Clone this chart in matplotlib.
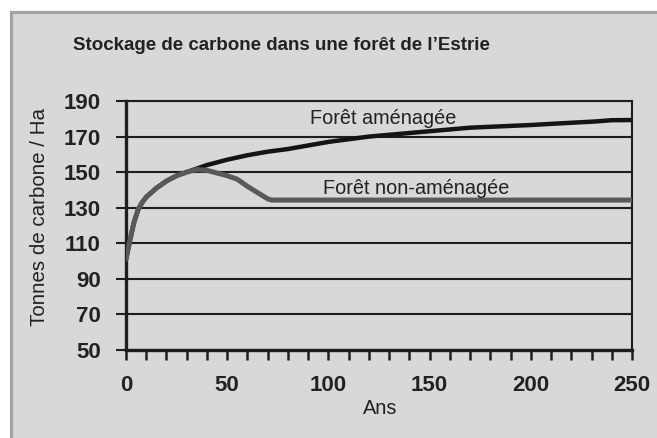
import matplotlib
matplotlib.use("Agg")
import matplotlib.pyplot as plt
from matplotlib.patches import Rectangle
from matplotlib.ticker import MultipleLocator

# ---- data ----
years_am = [0, 2, 4, 6, 8, 10, 15, 20, 25, 30, 35, 40, 50, 60, 70, 80, 90, 100,
            110, 120, 130, 140, 150, 160, 170, 180, 190, 200, 214, 232, 240, 250]
vals_am = [101, 112, 122, 129, 133, 136, 141, 145, 148, 150, 152, 154, 157, 159.5,
           161.5, 163, 165, 167, 168.5, 170, 171, 172, 173, 174, 175, 175.5, 176,
           176.5, 177.4, 178.5, 179.2, 179.3]

years_non = [0, 2, 4, 6, 8, 10, 15, 20, 25, 30, 35, 40, 45, 50, 55, 60, 65, 70, 72, 250]
vals_non = [101, 112, 122, 129, 133, 136, 141, 145, 148, 150, 151.5, 151, 149.5, 148,
            146, 142, 138.5, 135, 134.3, 134.3]

y_ticks = [50, 70, 90, 110, 130, 150, 170, 190]
x_ticks = [0, 50, 100, 150, 200, 250]

title = "Stockage de carbone dans une forêt de l\u2019Estrie"
xlabel = "Ans"
ylabel = "Tonnes de carbone / Ha"
label_am = "Forêt aménagée"
label_non = "Forêt non-aménagée"

plt.rcParams['font.family'] = ['Liberation Sans', 'DejaVu Sans']

W, H = 657, 438
fig = plt.figure(figsize=(W / 100, H / 100), dpi=100, facecolor='white')

bg = '#d8d8d8'
fig.patches.append(Rectangle((10.5 / W, -0.1), 1.2, (H - 11.5) / H + 0.1,
                             transform=fig.transFigure, facecolor=bg,
                             edgecolor='#a3a3a3', linewidth=2.3, zorder=-5))

ax = fig.add_axes([126 / W, 1 - 350 / H, (632 - 126) / W, (350 - 101) / H], zorder=2)
ax.set_facecolor(bg)

dark = '#1e1e1e'
for y in y_ticks:
    ax.axhline(y, color=dark, lw=1.5, zorder=1)

ax.plot(years_am, vals_am, color='#141414', lw=3.2, solid_capstyle='round', zorder=3)
ax.plot(years_non, vals_non, color='#595959', lw=3.6, solid_capstyle='round', zorder=4)

ax.set_xlim(0, 250)
ax.set_ylim(50, 190)
ax.set_yticks(y_ticks)
ax.set_xticks(x_ticks)
ax.xaxis.set_minor_locator(MultipleLocator(10))

for s in ['left', 'bottom']:
    ax.spines[s].set_linewidth(2.4)
    ax.spines[s].set_color(dark)
for s in ['right', 'top']:
    ax.spines[s].set_linewidth(1.5)
    ax.spines[s].set_color(dark)

ax.tick_params(axis='y', which='major', length=7, width=1.5, color=dark, pad=11,
               labelsize=16, labelcolor='#222222')
ax.tick_params(axis='x', which='both', length=7, width=1.8, color=dark, pad=11,
               labelsize=16, labelcolor='#222222')
ax.tick_params(axis='x', which='minor', labelbottom=False)
for lab in ax.get_xticklabels() + ax.get_yticklabels():
    lab.set_fontweight('bold')

ax.text(127, 180.4, label_am, ha='center', va='center', fontsize=14.3, color='#222222', zorder=5)
ax.text(143.3, 141, label_non, ha='center', va='center', fontsize=14.3, color='#222222', zorder=5)

fig.text(281 / W, 1 - 45 / H, title, ha='center', va='center', fontsize=13.5,
         fontweight='bold', color='#222222')
fig.text(380 / W, 1 - 408 / H, xlabel, ha='center', va='center', fontsize=14.3, color='#222222')
fig.text(40 / W, 1 - 217 / H, ylabel, ha='center', va='center', fontsize=14.8,
         rotation=90, color='#222222')

fig.savefig('out.png', dpi=100, facecolor='white')
